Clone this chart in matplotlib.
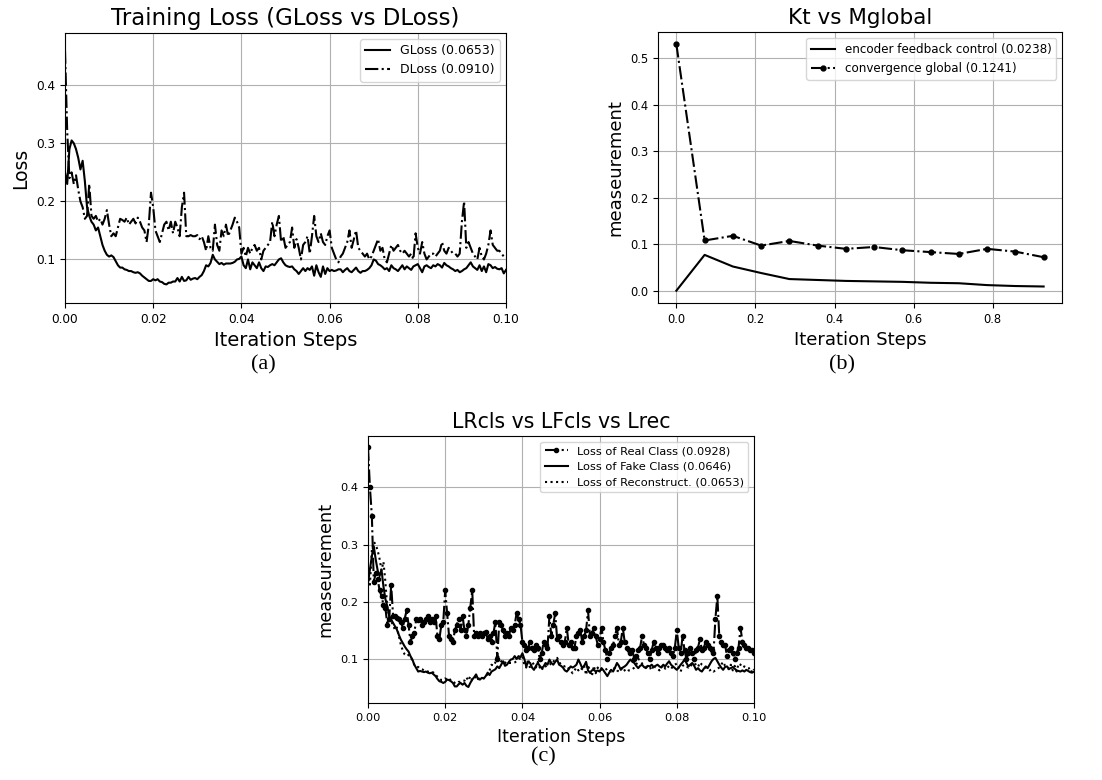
import numpy as np
import matplotlib
matplotlib.use("Agg")
import matplotlib.pyplot as plt

# generator / discriminator loss, sampled every 0.0005 steps
gloss = [0.25, 0.23, 0.29, 0.305, 0.30, 0.29, 0.275, 0.255, 0.27, 0.235, 0.19, 0.175, 0.165, 0.16, 0.15, 0.155, 0.14, 0.125, 0.115, 0.108,
         0.105, 0.107, 0.104, 0.097, 0.09, 0.086, 0.086, 0.083, 0.082, 0.08, 0.08, 0.078, 0.077, 0.078, 0.076, 0.072, 0.069, 0.066, 0.063, 0.063,
         0.066, 0.064, 0.066, 0.062, 0.061, 0.058, 0.057, 0.06, 0.06, 0.062, 0.062, 0.068, 0.062, 0.07, 0.063, 0.064, 0.07, 0.065, 0.067, 0.068,
         0.066, 0.07, 0.073, 0.08, 0.09, 0.088, 0.094, 0.108, 0.1, 0.096, 0.092, 0.094, 0.091, 0.093, 0.093, 0.093, 0.094, 0.096, 0.1, 0.101,
         0.105, 0.09, 0.085, 0.1, 0.083, 0.095, 0.09, 0.085, 0.095, 0.085, 0.08, 0.088, 0.087, 0.09, 0.092, 0.09, 0.095, 0.1, 0.102, 0.095,
         0.09, 0.088, 0.087, 0.088, 0.083, 0.08, 0.075, 0.08, 0.085, 0.08, 0.085, 0.082, 0.088, 0.072, 0.09, 0.078, 0.07, 0.088, 0.075, 0.085,
         0.08, 0.082, 0.08, 0.081, 0.083, 0.083, 0.078, 0.082, 0.085, 0.08, 0.078, 0.082, 0.086, 0.08, 0.077, 0.08, 0.08, 0.082, 0.085, 0.09,
         0.1, 0.098, 0.092, 0.09, 0.087, 0.083, 0.085, 0.08, 0.09, 0.085, 0.083, 0.08, 0.085, 0.09, 0.083, 0.088, 0.085, 0.082, 0.088, 0.09,
         0.092, 0.085, 0.078, 0.088, 0.09, 0.087, 0.085, 0.09, 0.088, 0.092, 0.09, 0.086, 0.094, 0.09, 0.088, 0.085, 0.083, 0.08, 0.082, 0.078,
         0.08, 0.083, 0.085, 0.09, 0.095, 0.088, 0.085, 0.082, 0.09, 0.08, 0.088, 0.078, 0.092, 0.09, 0.085, 0.087, 0.084, 0.083, 0.085, 0.076,
         0.082]

dloss = [0.46, 0.32, 0.24, 0.25, 0.23, 0.245, 0.22, 0.20, 0.19, 0.17, 0.175, 0.23, 0.175, 0.17, 0.175, 0.165, 0.17, 0.16, 0.17, 0.185,
         0.16, 0.14, 0.145, 0.14, 0.155, 0.17, 0.168, 0.165, 0.172, 0.16, 0.165, 0.17, 0.162, 0.172, 0.165, 0.155, 0.15, 0.13, 0.16, 0.215,
         0.19, 0.15, 0.14, 0.13, 0.145, 0.16, 0.165, 0.15, 0.165, 0.145, 0.165, 0.155, 0.14, 0.19, 0.215, 0.14, 0.14, 0.142, 0.14, 0.14,
         0.142, 0.135, 0.14, 0.13, 0.115, 0.14, 0.12, 0.115, 0.16, 0.125, 0.115, 0.15, 0.14, 0.16, 0.14, 0.15, 0.16, 0.172, 0.165, 0.155,
         0.11, 0.12, 0.105, 0.12, 0.11, 0.12, 0.125, 0.115, 0.12, 0.10, 0.115, 0.12, 0.125, 0.13, 0.165, 0.14, 0.16, 0.175, 0.13, 0.14,
         0.12, 0.125, 0.13, 0.155, 0.12, 0.135, 0.12, 0.10, 0.125, 0.13, 0.14, 0.11, 0.14, 0.175, 0.14, 0.13, 0.145, 0.13, 0.125, 0.14,
         0.15, 0.12, 0.11, 0.10, 0.095, 0.105, 0.11, 0.12, 0.13, 0.15, 0.12, 0.135, 0.15, 0.12, 0.115, 0.11, 0.105, 0.11, 0.10, 0.105,
         0.115, 0.125, 0.135, 0.115, 0.12, 0.10, 0.095, 0.11, 0.125, 0.115, 0.12, 0.125, 0.115, 0.11, 0.115, 0.11, 0.105, 0.11, 0.10, 0.145,
         0.12, 0.11, 0.13, 0.11, 0.10, 0.105, 0.11, 0.11, 0.105, 0.11, 0.115, 0.13, 0.115, 0.11, 0.12, 0.115, 0.11, 0.11, 0.105, 0.11,
         0.165, 0.20, 0.12, 0.13, 0.12, 0.11, 0.105, 0.10, 0.12, 0.105, 0.10, 0.11, 0.125, 0.15, 0.125, 0.12, 0.115, 0.115, 0.11, 0.105,
         0.105]

# class losses for the same run
real_cls = [0.47, 0.40, 0.35, 0.235, 0.25, 0.24, 0.22, 0.21, 0.195, 0.19, 0.16, 0.17, 0.23, 0.175, 0.175, 0.172, 0.17, 0.165, 0.155, 0.17,
            0.185, 0.16, 0.13, 0.14, 0.145, 0.17, 0.168, 0.17, 0.16, 0.165, 0.17, 0.175, 0.165, 0.17, 0.165, 0.175, 0.14, 0.135, 0.16, 0.165,
            0.22, 0.18, 0.14, 0.135, 0.13, 0.15, 0.16, 0.17, 0.15, 0.175, 0.15, 0.14, 0.16, 0.19, 0.22, 0.14, 0.145, 0.14, 0.145, 0.14,
            0.145, 0.148, 0.135, 0.14, 0.13, 0.145, 0.165, 0.10, 0.165, 0.16, 0.15, 0.14, 0.145, 0.14, 0.155, 0.15, 0.16, 0.18, 0.17, 0.16,
            0.13, 0.125, 0.115, 0.12, 0.13, 0.12, 0.115, 0.125, 0.12, 0.10, 0.11, 0.13, 0.125, 0.12, 0.175, 0.14, 0.16, 0.18, 0.135, 0.14,
            0.13, 0.125, 0.13, 0.155, 0.125, 0.13, 0.12, 0.12, 0.14, 0.145, 0.15, 0.13, 0.14, 0.15, 0.185, 0.14, 0.145, 0.155, 0.14, 0.125,
            0.135, 0.155, 0.13, 0.115, 0.10, 0.11, 0.12, 0.125, 0.14, 0.155, 0.125, 0.13, 0.155, 0.13, 0.12, 0.115, 0.11, 0.115, 0.10, 0.105,
            0.115, 0.12, 0.14, 0.125, 0.12, 0.11, 0.10, 0.115, 0.13, 0.12, 0.11, 0.12, 0.125, 0.125, 0.12, 0.115, 0.12, 0.11, 0.105, 0.12,
            0.15, 0.12, 0.11, 0.14, 0.115, 0.10, 0.11, 0.12, 0.11, 0.10, 0.115, 0.12, 0.135, 0.115, 0.12, 0.13, 0.125, 0.12, 0.115, 0.11,
            0.17, 0.21, 0.14, 0.13, 0.125, 0.125, 0.105, 0.115, 0.12, 0.11, 0.10, 0.11, 0.12, 0.155, 0.13, 0.125, 0.12, 0.12, 0.115, 0.115,
            0.11]

fake_cls = [0.233, 0.256, 0.28, 0.297, 0.274, 0.255, 0.245, 0.256, 0.227, 0.205, 0.192, 0.175, 0.169, 0.163, 0.157, 0.151, 0.142, 0.134, 0.128, 0.122,
            0.117, 0.113, 0.105, 0.099, 0.09, 0.084, 0.078, 0.079, 0.078, 0.077, 0.078, 0.076, 0.075, 0.076, 0.073, 0.07, 0.065, 0.061, 0.06, 0.058,
            0.06, 0.064, 0.063, 0.061, 0.058, 0.052, 0.052, 0.056, 0.058, 0.055, 0.058, 0.053, 0.051, 0.058, 0.064, 0.068, 0.073, 0.065, 0.064, 0.067,
            0.066, 0.07, 0.076, 0.072, 0.078, 0.08, 0.082, 0.087, 0.084, 0.09, 0.096, 0.088, 0.09, 0.095, 0.099, 0.1, 0.105, 0.1, 0.105, 0.103,
            0.11, 0.1, 0.087, 0.095, 0.093, 0.085, 0.081, 0.088, 0.093, 0.088, 0.084, 0.087, 0.093, 0.09, 0.099, 0.093, 0.09, 0.095, 0.099, 0.09,
            0.088, 0.085, 0.08, 0.078, 0.082, 0.087, 0.085, 0.087, 0.09, 0.099, 0.092, 0.084, 0.088, 0.095, 0.08, 0.076, 0.08, 0.081, 0.078, 0.08,
            0.078, 0.084, 0.08, 0.075, 0.07, 0.076, 0.081, 0.078, 0.085, 0.093, 0.088, 0.081, 0.085, 0.087, 0.09, 0.095, 0.099, 0.095, 0.093, 0.088,
            0.084, 0.088, 0.09, 0.086, 0.084, 0.088, 0.087, 0.09, 0.086, 0.088, 0.09, 0.087, 0.085, 0.09, 0.087, 0.092, 0.096, 0.09, 0.087, 0.084,
            0.081, 0.085, 0.09, 0.094, 0.099, 0.093, 0.087, 0.09, 0.093, 0.088, 0.081, 0.084, 0.08, 0.078, 0.083, 0.087, 0.084, 0.09, 0.096, 0.1,
            0.102, 0.096, 0.09, 0.085, 0.081, 0.086, 0.087, 0.083, 0.084, 0.086, 0.083, 0.08, 0.079, 0.078, 0.08, 0.078, 0.081, 0.079, 0.077, 0.076,
            0.078]

# reconstruction loss is the generator loss
recon = gloss

# Kt and M_global, one value per logged epoch
kt = [0.0, 0.077, 0.052, 0.038, 0.025, 0.023, 0.021, 0.020, 0.019, 0.017, 0.016, 0.012, 0.010, 0.009]
mglobal = [0.53, 0.108, 0.118, 0.097, 0.107, 0.097, 0.090, 0.094, 0.087, 0.083, 0.079, 0.090, 0.084, 0.072]

steps = np.linspace(0, 0.1, len(gloss))
epochs = np.arange(len(kt)) / len(kt)

W, H = 1102, 780
fig = plt.figure(figsize=(W / 100, H / 100), dpi=100)


def box(l, t, r, b):
    return [l / W, 1 - b / H, (r - l) / W, (b - t) / H]


lw = 1.5

# (a)
ax1 = fig.add_axes(box(65, 33, 506, 303))
ax1.plot(steps, gloss, color='k', lw=lw, label='GLoss (0.0653)')
ax1.plot(steps, dloss, color='k', lw=lw, ls='-.', label='DLoss (0.0910)')
ax1.set_xlim(0, 0.1)
ax1.set_ylim(0.025, 0.49)
ax1.set_yticks([0.1, 0.2, 0.3, 0.4])
ax1.grid(True)
ax1.tick_params(labelsize=8.7)
ax1.set_title('Training Loss (GLoss vs DLoss)', fontsize=16.5)
ax1.set_xlabel('Iteration Steps', fontsize=14)
ax1.set_ylabel('Loss', fontsize=13.5)
ax1.legend(loc='upper right', fontsize=9)

# (b)
ax2 = fig.add_axes(box(658, 32, 1062, 303))
ax2.plot(epochs, kt, color='k', lw=lw, label='encoder feedback control (0.0238)')
ax2.plot(epochs, mglobal, color='k', lw=lw, ls='-.', marker='o', ms=3.5,
         label='convergence global (0.1241)')
ax2.grid(True)
ax2.tick_params(labelsize=8.3)
ax2.set_title('Kt vs Mglobal', fontsize=15.5)
ax2.set_xlabel('Iteration Steps', fontsize=13)
ax2.set_ylabel('measeurement', fontsize=13)
ax2.legend(loc='upper right', fontsize=8.6)

# (c)
ax3 = fig.add_axes(box(368, 436, 754, 703))
ax3.plot(steps, real_cls, color='k', lw=lw, ls='-.', marker='o', ms=3,
         label='Loss of Real Class (0.0928)')
ax3.plot(steps, fake_cls, color='k', lw=lw, label='Loss of Fake Class (0.0646)')
ax3.plot(steps, recon, color='k', lw=lw, ls=':', label='Loss of Reconstruct. (0.0653)')
ax3.set_xlim(0, 0.1)
ax3.set_ylim(0.023, 0.49)
ax3.set_yticks([0.1, 0.2, 0.3, 0.4])
ax3.grid(True)
ax3.tick_params(labelsize=8.2)
ax3.set_title('LRcls vs LFcls vs Lrec', fontsize=14.8)
ax3.set_xlabel('Iteration Steps', fontsize=12.5)
ax3.set_ylabel('measeurement', fontsize=12.8)
ax3.legend(loc='upper right', fontsize=8.2)

# sub-figure captions
cap = dict(family='Liberation Serif', fontsize=16, ha='center', va='center')
fig.text(263 / W, 1 - 365 / H, '(a)', **cap)
fig.text(842 / W, 1 - 365 / H, '(b)', **cap)
fig.text(543 / W, 1 - 757 / H, '(c)', **cap)

fig.savefig('out.png', dpi=100)
